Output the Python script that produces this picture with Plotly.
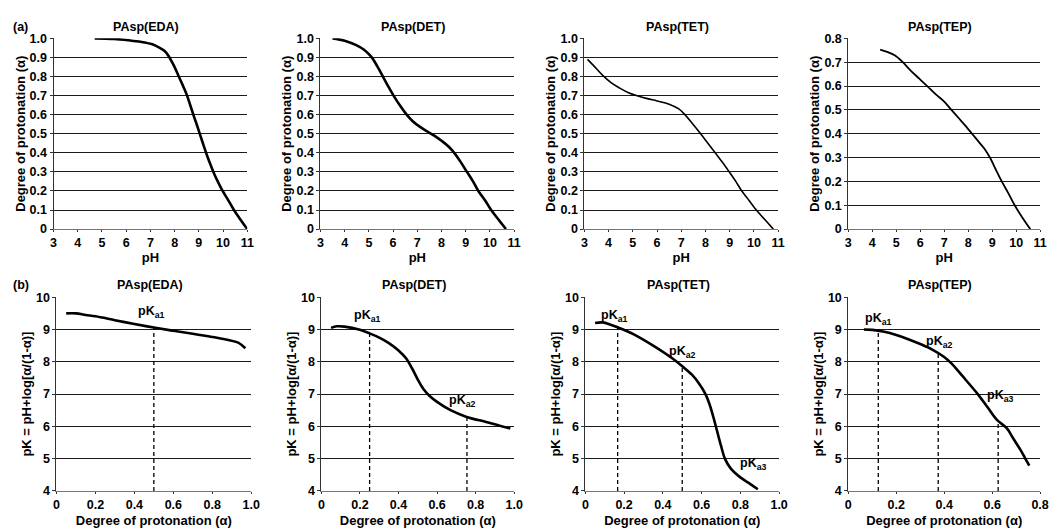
import plotly.graph_objects as go

# browser body margin (8 px) is compensated so the figure fits the 1058x531 window
OFF = 8
W, H = 1058 - OFF, 531 - OFF

# ---------------- data: row (a) degree of protonation vs pH ----------------
titles = ["PAsp(EDA)", "PAsp(DET)", "PAsp(TET)", "PAsp(TEP)"]

eda_ph = [4.7, 5.5, 6.1, 6.6, 7.05, 7.35, 7.6, 7.75, 7.95, 8.15, 8.35, 8.5, 8.65, 8.8,
          8.95, 9.05, 9.2, 9.35, 9.5, 9.65, 9.8, 10.0, 10.2, 10.45, 10.7, 11.0]
eda_a = [1.0, 0.997, 0.99, 0.982, 0.97, 0.953, 0.932, 0.908, 0.862, 0.807, 0.75, 0.705,
         0.648, 0.59, 0.535, 0.495, 0.438, 0.382, 0.332, 0.285, 0.245, 0.196, 0.155, 0.1,
         0.053, 0.0]

det_ph = [3.5, 4.0, 4.5, 4.8, 5.0, 5.15, 5.35, 5.58, 5.8, 6.02, 6.3, 6.56, 6.8, 7.1, 7.4,
          7.7, 8.0, 8.3, 8.55, 8.8, 9.05, 9.3, 9.52, 9.8, 10.05, 10.35, 10.66]
det_a = [1.0, 0.988, 0.963, 0.94, 0.917, 0.895, 0.853, 0.8, 0.748, 0.7, 0.645, 0.6, 0.567,
         0.537, 0.513, 0.49, 0.463, 0.432, 0.396, 0.35, 0.3, 0.25, 0.2, 0.15, 0.1, 0.05, 0.0]

tet_ph = [3.13, 3.45, 3.78, 4.1, 4.45, 4.8, 5.15, 5.6, 6.0, 6.5, 6.9, 7.15, 7.45, 7.8,
          8.1, 8.4, 8.7, 8.98, 9.25, 9.5, 9.8, 10.1, 10.45, 10.8]
tet_a = [0.89, 0.848, 0.803, 0.768, 0.74, 0.716, 0.7, 0.684, 0.672, 0.655, 0.63, 0.6,
         0.555, 0.5, 0.45, 0.4, 0.35, 0.3, 0.25, 0.2, 0.15, 0.1, 0.05, 0.0]

tep_ph = [4.33, 4.65, 4.95, 5.27, 5.6, 5.95, 6.29, 6.65, 7.0, 7.3, 7.6, 7.9, 8.16, 8.45,
          8.7, 8.93, 9.15, 9.4, 9.65, 9.94, 10.25, 10.59]
tep_a = [0.753, 0.742, 0.728, 0.7, 0.665, 0.632, 0.6, 0.565, 0.535, 0.5, 0.466, 0.432,
         0.4, 0.365, 0.334, 0.296, 0.25, 0.2, 0.155, 0.1, 0.05, 0.0]

# ---------------- data: row (b) pK vs degree of protonation ----------------
eda2_alpha = [0.05, 0.1, 0.15, 0.2, 0.3, 0.4, 0.5, 0.6, 0.7, 0.8, 0.87, 0.93, 0.97]
eda2_pk = [9.5, 9.5, 9.45, 9.41, 9.29, 9.17, 9.06, 8.96, 8.87, 8.77, 8.69, 8.6, 8.42]

det2_alpha = [0.05, 0.08, 0.12, 0.2, 0.25, 0.3, 0.35, 0.4, 0.44, 0.47, 0.5, 0.53, 0.56,
              0.6, 0.67, 0.75, 0.85, 0.92, 0.98]
det2_pk = [9.05, 9.1, 9.09, 8.99, 8.88, 8.75, 8.58, 8.35, 8.1, 7.8, 7.45, 7.15, 6.95,
           6.76, 6.5, 6.3, 6.14, 6.03, 5.93]

tet2_alpha = [0.05, 0.09, 0.13, 0.17, 0.25, 0.35, 0.45, 0.5, 0.55, 0.59, 0.62, 0.64,
              0.66, 0.68, 0.7, 0.72, 0.75, 0.8, 0.85, 0.89]
tet2_pk = [9.2, 9.22, 9.15, 9.06, 8.85, 8.5, 8.1, 7.86, 7.6, 7.3, 7.0, 6.7, 6.3, 5.85,
           5.4, 5.0, 4.7, 4.42, 4.22, 4.05]

tep2_alpha = [0.065, 0.1, 0.15, 0.2, 0.25, 0.3, 0.35, 0.4, 0.43, 0.46, 0.5, 0.54, 0.58,
              0.62, 0.66, 0.69, 0.72, 0.74, 0.755]
tep2_pk = [9.0, 8.99, 8.93, 8.83, 8.7, 8.55, 8.38, 8.15, 7.95, 7.7, 7.35, 7.0, 6.6, 6.2,
           5.95, 5.6, 5.25, 4.98, 4.78]

# pKa marker positions (alpha, pK where the dashed line meets the curve) and labels
pka_alpha = [[0.5], [0.25, 0.755], [1 / 6, 0.5], [0.125, 0.375, 0.625]]
pka_top = [[9.06], [8.87, 6.3], [9.06, 7.86], [8.94, 8.27, 6.18]]
lab_text = [["a1"], ["a1", "a2"], ["a1", "a2", "a3"], ["a1", "a2", "a3"]]
lab_x = [[0.49], [0.24, 0.73], [0.15, 0.5, 0.87], [0.125, 0.38, 0.635]]
lab_y = [[9.55], [9.42, 6.8], [9.42, 8.3, 4.82], [9.32, 8.6, 6.94]]

# ticks
ph_ticks = [3, 4, 5, 6, 7, 8, 9, 10, 11]
a_ticks_full = [0, 0.1, 0.2, 0.3, 0.4, 0.5, 0.6, 0.7, 0.8, 0.9, 1.0]
a_text_full = ["0", "0.1", "0.2", "0.3", "0.4", "0.5", "0.6", "0.7", "0.8", "0.9", "1.0"]
a_max = [1.0, 1.0, 1.0, 0.8]
pk_ticks = [4, 5, 6, 7, 8, 9, 10]
pk_grid = [5, 6, 7, 8, 9]
alpha_ticks = [0, 0.2, 0.4, 0.6, 0.8, 1.0]
alpha_text = ["0", "0.2", "0.4", "0.6", "0.8", "1.0"]
alpha_max = [1.0, 1.0, 1.0, 0.8]

row1 = [(eda_ph, eda_a), (det_ph, det_a), (tet_ph, tet_a), (tep_ph, tep_a)]
row2 = [(eda2_alpha, eda2_pk), (det2_alpha, det2_pk), (tet2_alpha, tet2_pk),
        (tep2_alpha, tep2_pk)]
row1_width = [2.6, 2.6, 1.6, 1.8]

# ---------------- layout geometry (window pixels) ----------------
xdom1 = [(51, 247), (321, 517), (588, 784), (855, 1049)]
xdom2 = [(54, 251), (322, 517), (589, 785), (855, 1049)]
ydom1 = (32, 228)
ydom2 = (298, 497)
title_y = [20, 285]

FONT = "Liberation Sans, Arial, Helvetica, sans-serif"
BF = dict(family=FONT, size=12.5, color="black", weight="bold")
TF = dict(family=FONT, size=13, color="black", weight="bold")


def px(v):
    return (v - OFF) / W


def py(v):
    return 1 - (v - OFF) / H


fig = go.Figure()
layout = dict(width=W, height=H, margin=dict(l=0, r=0, t=0, b=0),
              paper_bgcolor="white", plot_bgcolor="white", showlegend=False,
              annotations=[])

for i in range(4):
    # ---- row (a)
    n = i + 1
    xa, ya = f"x{n}", f"y{n}"
    ph, a = row1[i]
    fig.add_trace(go.Scatter(x=ph, y=a, mode="lines", xaxis=xa, yaxis=ya,
                             line=dict(color="black", width=row1_width[i], shape="spline"),
                             hoverinfo="skip"))
    k = 9 if a_max[i] == 0.8 else 11
    layout[f"xaxis{n}"] = dict(
        domain=[px(xdom1[i][0]), px(xdom1[i][1])], anchor=ya, range=[3, 11],
        tickvals=ph_ticks, ticks="outside", ticklen=2, tickcolor="#333",
        showline=True, linecolor="#777", linewidth=1, showgrid=False, zeroline=False,
        tickfont=BF, title=dict(text="pH", font=TF, standoff=1))
    layout[f"yaxis{n}"] = dict(
        domain=[py(ydom1[1]), py(ydom1[0])], anchor=xa, range=[0, a_max[i]],
        tickvals=a_ticks_full[:k], ticktext=a_text_full[:k], ticks="outside",
        ticklen=3, tickcolor="#333", showline=True, linecolor="#333", linewidth=1,
        showgrid=True, gridcolor="#1a1a1a", gridwidth=1, zeroline=False, tickfont=BF,
        title=dict(text="Degree of protonation (α)", font=TF, standoff=1))
    layout["annotations"].append(dict(
        text=f"<b>{titles[i]}</b>", x=px((xdom1[i][0] + xdom1[i][1]) / 2) - 0.004,
        y=py(title_y[0]), xref="paper", yref="paper", showarrow=False,
        font=dict(family=FONT, size=12.5, color="black"), xanchor="center",
        yanchor="middle"))

    # ---- row (b)
    m = i + 5
    xb, yb = f"x{m}", f"y{m}"
    al, pk = row2[i]
    fig.add_trace(go.Scatter(x=al, y=pk, mode="lines", xaxis=xb, yaxis=yb,
                             line=dict(color="black", width=2.6, shape="spline"),
                             hoverinfo="skip"))
    for xa_, yt_ in zip(pka_alpha[i], pka_top[i]):
        fig.add_trace(go.Scatter(x=[xa_, xa_], y=[4, yt_], mode="lines", xaxis=xb,
                                 yaxis=yb, line=dict(color="black", width=1.3, dash="4px,3px"),
                                 hoverinfo="skip"))
    for t, lx, ly in zip(lab_text[i], lab_x[i], lab_y[i]):
        layout["annotations"].append(dict(
            text=f"<b>pK<sub>{t}</sub></b>", x=lx, y=ly, xref=xb, yref=yb,
            showarrow=False, font=dict(family=FONT, size=12.5, color="black"),
            xanchor="center", yanchor="middle"))
    kk = 5 if alpha_max[i] == 0.8 else 6
    layout[f"xaxis{m}"] = dict(
        domain=[px(xdom2[i][0]), px(xdom2[i][1])], anchor=yb, range=[0, alpha_max[i]],
        tickvals=alpha_ticks[:kk], ticktext=alpha_text[:kk], ticks="outside", ticklen=2,
        tickcolor="#333", showline=True, linecolor="#777", linewidth=1, showgrid=False,
        zeroline=False, tickfont=BF,
        title=dict(text="Degree of protonation (α)", font=TF, standoff=4))
    layout[f"yaxis{m}"] = dict(
        domain=[py(ydom2[1]), py(ydom2[0])], anchor=xb, range=[4, 10],
        tickvals=pk_ticks, ticks="outside", ticklen=3, tickcolor="#333",
        showline=True, linecolor="#333", linewidth=1, showgrid=False, zeroline=False,
        minor=dict(tickvals=pk_grid, showgrid=True, gridcolor="#1a1a1a", gridwidth=1,
                   ticks=""),
        tickfont=BF,
        title=dict(text="pK = pH+log[α/(1-α)]", font=TF, standoff=1))
    layout["annotations"].append(dict(
        text=f"<b>{titles[i]}</b>", x=px((xdom2[i][0] + xdom2[i][1]) / 2) - 0.004,
        y=py(title_y[1]), xref="paper", yref="paper", showarrow=False,
        font=dict(family=FONT, size=12.5, color="black"), xanchor="center",
        yanchor="middle"))

layout["annotations"].append(dict(text="<b>(a)</b>", x=px(OFF), y=py(title_y[0]),
                                  xref="paper", yref="paper", showarrow=False,
                                  xanchor="left", yanchor="middle",
                                  font=dict(family=FONT, size=12.5, color="black")))
layout["annotations"].append(dict(text="<b>(b)</b>", x=px(OFF), y=py(title_y[1]),
                                  xref="paper", yref="paper", showarrow=False,
                                  xanchor="left", yanchor="middle",
                                  font=dict(family=FONT, size=12.5, color="black")))

fig.update_layout(**layout)
fig.write_html("out.html")
